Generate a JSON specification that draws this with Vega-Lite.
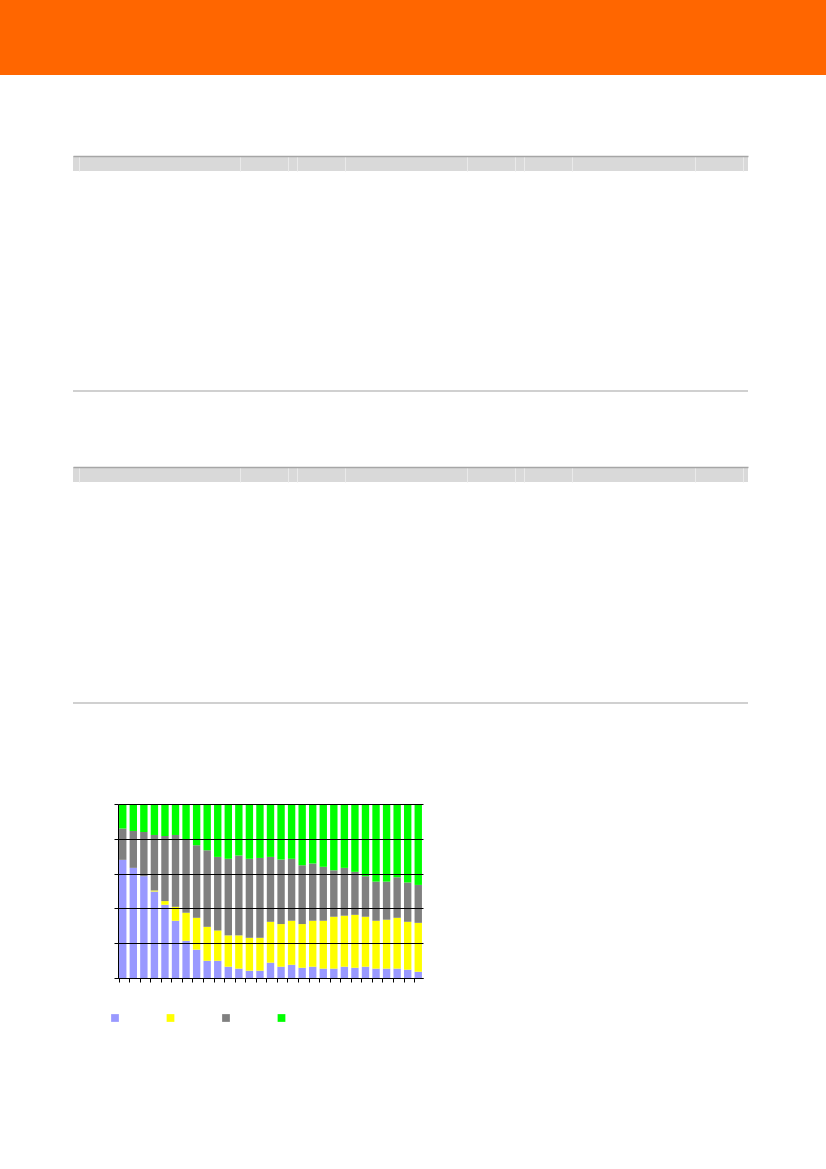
{
  "$schema": "https://vega.github.io/schema/vega-lite/v6.json",
  "padding": 0,
  "spacing": 0,
  "bounds": "flush",
  "background": "white",
  "config": {"view": {"stroke": null}, "point": {"size": 0, "opacity": 0}},
  "vconcat": [
    {"width": 826, "height": 75, "view": {"fill": "#FF6600", "stroke": null},
     "data": {"values": [{}]}, "mark": {"type": "point", "opacity": 0, "size": 0}, "encoding": {}},
    {"width": 1, "height": 81, "data": {"values": [{}]}, "mark": {"type": "point", "opacity": 0, "size": 0}, "encoding": {}},
    {"hconcat": [
      {"width": 1, "height": 15, "data": {"values": [{}]}, "mark": {"type": "point", "opacity": 0, "size": 0}, "encoding": {}},
      {"width": 675, "height": 15, "view": {"fill": "#D9D9D9", "stroke": null},
       "data": {"values": [{"c": 0}]}, "mark": {"type": "point", "opacity": 0, "size": 0},
       "encoding": {"x": {"field": "c", "type": "quantitative", "scale": {"domain": [0, 675]},
         "axis": {"orient": "top", "values": [6, 167, 215, 224, 272, 394, 442, 451, 499, 622, 670], "labels": false, "ticks": false, "title": null,
                  "domainColor": "#A6A6A6", "domainWidth": 1.5, "grid": true, "gridColor": "#EAEAEA", "gridWidth": 1}}}}
    ], "spacing": 72, "bounds": "flush"},
    {"width": 1, "height": 234, "data": {"values": [{}]}, "mark": {"type": "point", "opacity": 0, "size": 0}, "encoding": {}},
    {"hconcat": [
      {"width": 1, "height": 2, "data": {"values": [{}]}, "mark": {"type": "point", "opacity": 0, "size": 0}, "encoding": {}},
      {"width": 675, "height": 2, "view": {"fill": "#D0D0D0", "stroke": null},
       "data": {"values": [{}]}, "mark": {"type": "point", "opacity": 0, "size": 0}, "encoding": {}}
    ], "spacing": 72, "bounds": "flush"},
    {"width": 1, "height": 77, "data": {"values": [{}]}, "mark": {"type": "point", "opacity": 0, "size": 0}, "encoding": {}},
    {"hconcat": [
      {"width": 1, "height": 15, "data": {"values": [{}]}, "mark": {"type": "point", "opacity": 0, "size": 0}, "encoding": {}},
      {"width": 675, "height": 15, "view": {"fill": "#D9D9D9", "stroke": null},
       "data": {"values": [{"c": 0}]}, "mark": {"type": "point", "opacity": 0, "size": 0},
       "encoding": {"x": {"field": "c", "type": "quantitative", "scale": {"domain": [0, 675]},
         "axis": {"orient": "top", "values": [6, 167, 215, 224, 272, 394, 442, 451, 499, 622, 670], "labels": false, "ticks": false, "title": null,
                  "domainColor": "#A6A6A6", "domainWidth": 1.5, "grid": true, "gridColor": "#EAEAEA", "gridWidth": 1}}}}
    ], "spacing": 72, "bounds": "flush"},
    {"width": 1, "height": 235, "data": {"values": [{}]}, "mark": {"type": "point", "opacity": 0, "size": 0}, "encoding": {}},
    {"hconcat": [
      {"width": 1, "height": 2, "data": {"values": [{}]}, "mark": {"type": "point", "opacity": 0, "size": 0}, "encoding": {}},
      {"width": 675, "height": 2, "view": {"fill": "#D0D0D0", "stroke": null},
       "data": {"values": [{}]}, "mark": {"type": "point", "opacity": 0, "size": 0}, "encoding": {}}
    ], "spacing": 72, "bounds": "flush"},
    {"width": 1, "height": 102, "data": {"values": [{}]}, "mark": {"type": "point", "opacity": 0, "size": 0}, "encoding": {}},
    {"hconcat": [
      {"width": 1, "height": 174, "data": {"values": [{}]}, "mark": {"type": "point", "opacity": 0, "size": 0}, "encoding": {}},
      {"width": 305, "height": 174,
       "data": {"values": [
        {"i":1,"s":"A","v":67.9},{"i":1,"s":"B","v":0},{"i":1,"s":"C","v":18.0},{"i":1,"s":"D","v":14.1},
        {"i":2,"s":"A","v":63.3},{"i":2,"s":"B","v":0},{"i":2,"s":"C","v":21.2},{"i":2,"s":"D","v":15.5},
        {"i":3,"s":"A","v":58.5},{"i":3,"s":"B","v":0},{"i":3,"s":"C","v":25.4},{"i":3,"s":"D","v":16.1},
        {"i":4,"s":"A","v":49.7},{"i":4,"s":"B","v":0.6},{"i":4,"s":"C","v":31.9},{"i":4,"s":"D","v":17.8},
        {"i":5,"s":"A","v":42.1},{"i":5,"s":"B","v":2.1},{"i":5,"s":"C","v":37.4},{"i":5,"s":"D","v":18.4},
        {"i":6,"s":"A","v":32.9},{"i":6,"s":"B","v":8.0},{"i":6,"s":"C","v":41.3},{"i":6,"s":"D","v":17.8},
        {"i":7,"s":"A","v":21.4},{"i":7,"s":"B","v":16.1},{"i":7,"s":"C","v":41.8},{"i":7,"s":"D","v":20.7},
        {"i":8,"s":"A","v":16.3},{"i":8,"s":"B","v":18.3},{"i":8,"s":"C","v":41.7},{"i":8,"s":"D","v":23.7},
        {"i":9,"s":"A","v":9.9},{"i":9,"s":"B","v":19.5},{"i":9,"s":"C","v":44.0},{"i":9,"s":"D","v":26.6},
        {"i":10,"s":"A","v":9.9},{"i":10,"s":"B","v":17.4},{"i":10,"s":"C","v":42.3},{"i":10,"s":"D","v":30.4},
        {"i":11,"s":"A","v":6.5},{"i":11,"s":"B","v":18.0},{"i":11,"s":"C","v":44.0},{"i":11,"s":"D","v":31.5},
        {"i":12,"s":"A","v":5.4},{"i":12,"s":"B","v":19.1},{"i":12,"s":"C","v":45.9},{"i":12,"s":"D","v":29.6},
        {"i":13,"s":"A","v":4.2},{"i":13,"s":"B","v":18.9},{"i":13,"s":"C","v":45.4},{"i":13,"s":"D","v":31.5},
        {"i":14,"s":"A","v":4.2},{"i":14,"s":"B","v":18.9},{"i":14,"s":"C","v":45.9},{"i":14,"s":"D","v":31.0},
        {"i":15,"s":"A","v":8.8},{"i":15,"s":"B","v":23.5},{"i":15,"s":"C","v":37.3},{"i":15,"s":"D","v":30.4},
        {"i":16,"s":"A","v":6.5},{"i":16,"s":"B","v":24.5},{"i":16,"s":"C","v":37.1},{"i":16,"s":"D","v":31.9},
        {"i":17,"s":"A","v":7.6},{"i":17,"s":"B","v":25.3},{"i":17,"s":"C","v":35.6},{"i":17,"s":"D","v":31.5},
        {"i":18,"s":"A","v":5.9},{"i":18,"s":"B","v":25.1},{"i":18,"s":"C","v":33.8},{"i":18,"s":"D","v":35.2},
        {"i":19,"s":"A","v":6.5},{"i":19,"s":"B","v":26.4},{"i":19,"s":"C","v":32.9},{"i":19,"s":"D","v":34.2},
        {"i":20,"s":"A","v":5.4},{"i":20,"s":"B","v":27.5},{"i":20,"s":"C","v":31.0},{"i":20,"s":"D","v":36.1},
        {"i":21,"s":"A","v":5.4},{"i":21,"s":"B","v":29.8},{"i":21,"s":"C","v":26.7},{"i":21,"s":"D","v":38.1},
        {"i":22,"s":"A","v":6.5},{"i":22,"s":"B","v":29.3},{"i":22,"s":"C","v":27.5},{"i":22,"s":"D","v":36.7},
        {"i":23,"s":"A","v":5.9},{"i":23,"s":"B","v":30.4},{"i":23,"s":"C","v":24.7},{"i":23,"s":"D","v":39.0},
        {"i":24,"s":"A","v":6.5},{"i":24,"s":"B","v":28.7},{"i":24,"s":"C","v":23.3},{"i":24,"s":"D","v":41.5},
        {"i":25,"s":"A","v":5.4},{"i":25,"s":"B","v":27.5},{"i":25,"s":"C","v":22.5},{"i":25,"s":"D","v":44.6},
        {"i":26,"s":"A","v":5.4},{"i":26,"s":"B","v":28.1},{"i":26,"s":"C","v":21.9},{"i":26,"s":"D","v":44.6},
        {"i":27,"s":"A","v":5.4},{"i":27,"s":"B","v":29.2},{"i":27,"s":"C","v":23.3},{"i":27,"s":"D","v":42.1},
        {"i":28,"s":"A","v":4.8},{"i":28,"s":"B","v":27.5},{"i":28,"s":"C","v":22.6},{"i":28,"s":"D","v":45.1},
        {"i":29,"s":"A","v":3.6},{"i":29,"s":"B","v":28.1},{"i":29,"s":"C","v":21.8},{"i":29,"s":"D","v":46.5}
       ]},
       "mark": {"type": "bar", "strokeWidth": 0},
       "encoding": {
        "x": {"field": "i", "type": "ordinal", "scale": {"paddingInner": 0.3, "paddingOuter": 0.1},
              "axis": {"labels": false, "title": null, "ticks": true, "tickSize": 4, "tickColor": "black", "domainColor": "black", "bandPosition": 0, "zindex": 1}},
        "y": {"field": "v", "type": "quantitative", "stack": "normalize", "scale": {"domain": [0, 1]},
              "axis": {"values": [0, 0.2, 0.4, 0.6, 0.8, 1], "labels": false, "title": null, "grid": true, "gridColor": "black", "gridWidth": 1,
                       "domainColor": "black", "tickColor": "black", "tickSize": 4, "zindex": 1}},
        "color": {"field": "s", "type": "nominal",
                  "scale": {"domain": ["A", "B", "C", "D"], "range": ["#9999FF", "#FFFF00", "#808080", "#00FF00"]},
                  "legend": {"orient": "none", "legendX": 110, "legendY": 1013, "direction": "horizontal", "title": null,
                             "symbolType": "square", "symbolSize": 60, "symbolStrokeWidth": 0, "symbolOpacity": 1,
                             "labelExpr": "''", "labelOffset": 0, "columnPadding": 45.5}},
        "order": {"field": "s", "sort": "ascending"}
       }}
    ], "spacing": 117, "bounds": "flush"}
  ]
}
